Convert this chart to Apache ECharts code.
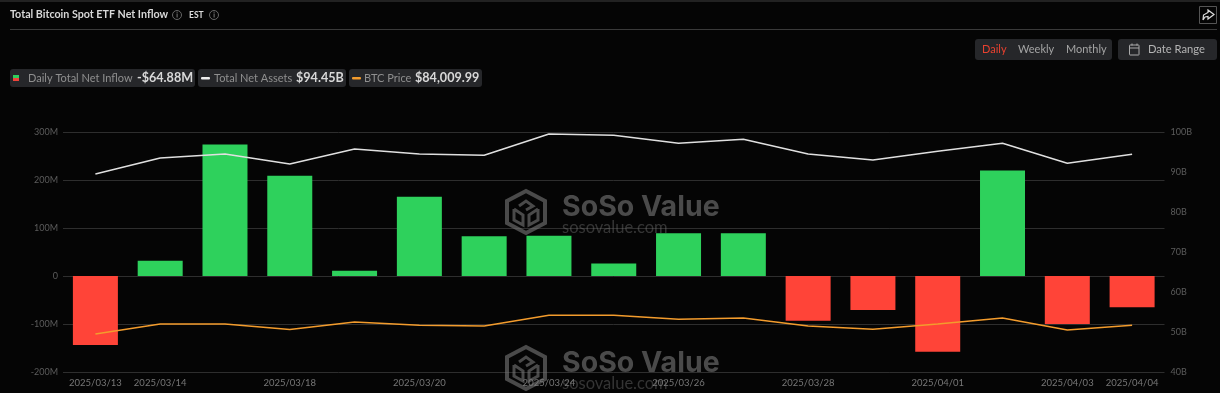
<!DOCTYPE html>
<html><head><meta charset="utf-8">
<style>html,body{margin:0;padding:0;background:#050505;overflow:hidden}#c{width:1220px;height:393px}</style>
<script src="https://cdn.jsdelivr.net/npm/echarts@6/dist/echarts.min.js"></script></head>
<body><div id="c"></div>
<script>
const dates=['2025/03/13','2025/03/14','2025/03/17','2025/03/18','2025/03/19','2025/03/20','2025/03/21','2025/03/24','2025/03/25','2025/03/26','2025/03/27','2025/03/28','2025/03/31','2025/04/01','2025/04/02','2025/04/03','2025/04/04'];
const shownDates=['2025/03/13','2025/03/14','2025/03/18','2025/03/20','2025/03/24','2025/03/26','2025/03/28','2025/04/01','2025/04/03','2025/04/04'];
const netInflow=[-144,32,274,209,11,165,83,84,26,89,89,-93,-71,-158,220,-100,-64.88];
const netAssets=[89.5,93.5,94.5,92,95.75,94.5,94.2,99.5,99.2,97.2,98.2,94.5,93,95.2,97.2,92.2,94.45];
const btcPrice=[49.5,52,52,50.6,52.5,51.7,51.5,54.2,54.2,53.2,53.5,51.5,50.7,52,53.5,50.5,51.7];
const FONT='Lato';
const chart=echarts.init(document.getElementById('c'),null,{renderer:'canvas'});
function t(x,y,text,size,fill,weight,align){return {type:'text',x,y,silent:true,style:{text,fontFamily:FONT,fontSize:size,fill,fontWeight:weight||'normal',align:align||'left',verticalAlign:'middle'}};}
function r(x,y,w,h,fill,rad,stroke){return {type:'rect',x,y,silent:true,shape:{x:0,y:0,width:w,height:h,r:rad||0},style:{fill,stroke:stroke||null,lineWidth:stroke?1:0}};}
function c(cx,cy,rad,stroke){return {type:'circle',silent:true,shape:{cx,cy,r:rad},style:{fill:'none',stroke,lineWidth:1}};}
function l(pts,stroke,w){return {type:'polyline',silent:true,shape:{points:pts},style:{fill:'none',stroke,lineWidth:w||1}};}
function mark(ox,oy){
  const o='rgba(120,120,120,0.6)';
  const hex=[[0,-21],[19,-11],[19,11],[0,21],[-19,11],[-19,-11]].map(p=>[ox+p[0],oy+p[1]]);
  const seg=(pts,w)=>({type:'polyline',silent:true,z:30,shape:{points:pts.map(p=>[ox+p[0],oy+p[1]])},style:{stroke:o,lineWidth:w,fill:'none'}});
  return [
    {type:'polygon',silent:true,z:30,shape:{points:hex},style:{fill:'none',stroke:o,lineWidth:4}},
    seg([[-12,-3],[-3,3],[-3,13],[-12,8],[-12,-3]],3),
    seg([[12,-3],[3,3],[3,13],[12,8],[12,-3]],3),
    seg([[-7,-6],[0,-11],[7,-6],[0,-2]],3),
    {type:'text',silent:true,z:30,x:ox+36,y:oy-5,style:{text:'SoSo Value',fontFamily:'Inter',fontWeight:'bold',fontSize:28.5,fill:o,verticalAlign:'middle'}},
    {type:'text',silent:true,z:30,x:ox+36,y:oy+16,style:{text:'sosovalue.com',fontFamily:FONT,fontSize:16.5,fill:'rgba(120,120,120,0.42)',verticalAlign:'middle'}}
  ];
}
const graphic=[
  r(0,0,1220,2,'#222'),
  t(10,14.5,'Total Bitcoin Spot ETF Net Inflow',10.7,'#d8d8d8','bold'),
  c(177,15,4.5,'#666'), r(176.6,13.5,1,4,'#777'), r(176.6,11.8,1,1,'#777'),
  t(189,15,'EST',8.5,'#ddd','bold'),
  c(214,15,4.5,'#666'), r(213.6,13.5,1,4,'#777'), r(213.6,11.8,1,1,'#777'),
  r(10,29,1207,1,'#3a3a3a'),
  r(1199.5,6.5,17,17,'none',0,'#555'),
  l([[1203,20],[1203.5,15],[1208,12.5],[1208,10],[1214,14.5],[1208,19],[1208,16.5],[1205,17],[1203,20]],'#ddd',1.2),
  r(975,39,137,21,'#26272a',3),
  t(982,49.5,'Daily',11,'#e8412f'),
  t(1018,49.5,'Weekly',11,'#a4a4a4'),
  t(1066,49.5,'Monthly',11,'#a4a4a4'),
  r(1118,39,99,21,'#26272a',3),
  r(1129.5,45,9.5,10,'none',0.5,'#aaa'),
  r(1129.5,47.5,9.5,1,'#aaa'),
  r(1131.5,43.5,1,2,'#aaa'), r(1136.5,43.5,1,2,'#aaa'),
  t(1148,49.5,'Date Range',11.2,'#b4b4b4'),
  r(10,69,185,18,'#26272a',3),
  r(13,75,6,3,'#2ecf5c'), r(13,78,6,3,'#f0443a'),
  t(28,78,'Daily Total Net Inflow',11,'#8f8f8f'),
  t(137,78,'-$64.88M',12.6,'#d8d8d8','bold'),
  r(198,69,148,18,'#26272a',3),
  r(201,77,9,2.5,'#eee',1),
  t(214,78,'Total Net Assets',11,'#8f8f8f'),
  t(296,78,'$94.45B',12.6,'#d8d8d8','bold'),
  r(349,69,133,18,'#26272a',3),
  r(352,77,9,2.5,'#f39c2d',1),
  t(364,78,'BTC Price',11,'#8f8f8f'),
  t(415,78,'$84,009.99',12.6,'#d8d8d8','bold'),
  ...mark(526,212),
  ...mark(526,368)
];
chart.setOption({
  backgroundColor:'#050505',
  animation:false,
  textStyle:{fontFamily:FONT},
  graphic,
  grid:{left:63,right:55.5,top:132,bottom:21,containLabel:false},
  xAxis:{type:'category',data:dates,
    axisLine:{show:false},axisTick:{show:false},
    axisLabel:{color:'#777',fontSize:9.5,margin:6,fontFamily:FONT,hideOverlap:false,
      interval:(i,v)=>shownDates.includes(v)}},
  yAxis:[
    {type:'value',min:-200,max:300,interval:100,position:'left',
     axisLine:{show:false},axisTick:{show:false},
     splitLine:{lineStyle:{color:'#2e2e2e',width:1}},
     axisLabel:{color:'#5c5c5c',fontSize:9,margin:5,fontFamily:FONT,formatter:v=>v===0?'0':v+'M'}},
    {type:'value',min:40,max:100,interval:10,position:'right',
     axisLine:{show:false},axisTick:{show:false},splitLine:{show:false},
     axisLabel:{color:'#5c5c5c',fontSize:9,margin:6,fontFamily:FONT,formatter:v=>v+'B'}}
  ],
  series:[
    {name:'Daily Total Net Inflow',type:'bar',barWidth:45,yAxisIndex:0,
     data:netInflow.map(v=>({value:v,itemStyle:{color:v>=0?'#2ed15c':'#ff4438'}}))},
    {name:'Total Net Assets',type:'line',yAxisIndex:1,data:netAssets,symbol:'none',z:5,
     lineStyle:{color:'#e0e0e0',width:1.5}},
    {name:'BTC Price',type:'line',yAxisIndex:1,data:btcPrice,symbol:'none',z:5,
     lineStyle:{color:'#f39c2d',width:1.5}}
  ]
});
</script></body></html>
